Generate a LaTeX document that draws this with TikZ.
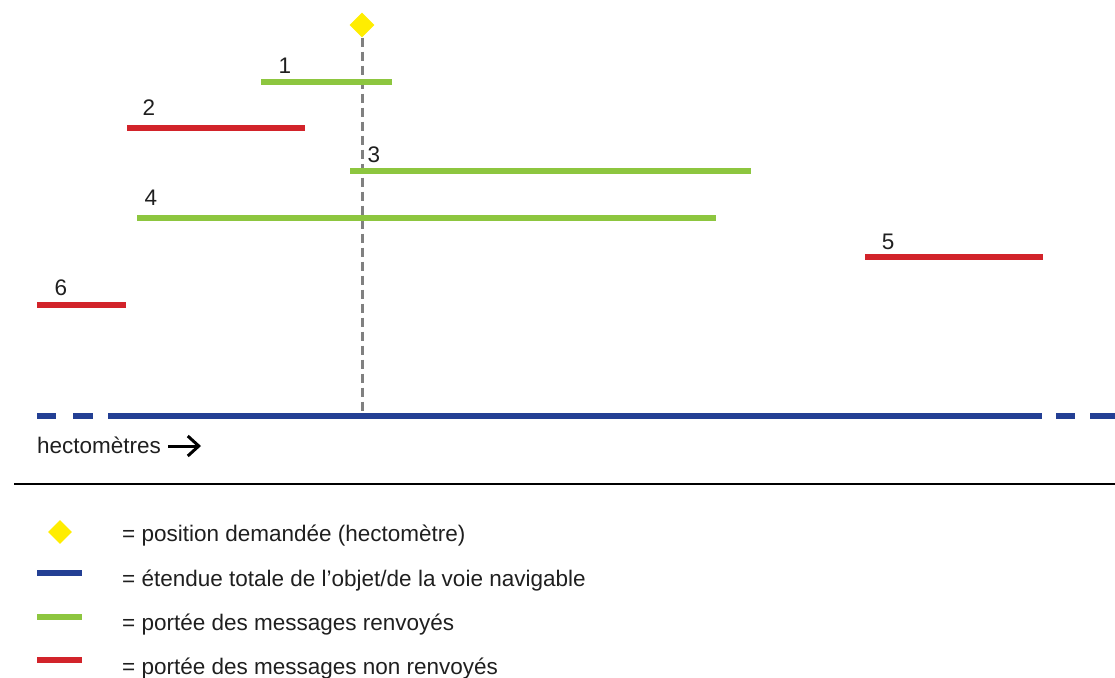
\documentclass[tikz,border=0pt]{standalone}
\usepackage{fontspec}
\setmainfont{Liberation Sans}
\usetikzlibrary{shapes.geometric,arrows.meta}
\definecolor{vert}{RGB}{141,198,63}
\definecolor{rouge}{RGB}{210,35,42}
\definecolor{bleu}{RGB}{35,63,148}
\definecolor{jaune}{RGB}{255,237,0}
\definecolor{gris}{RGB}{128,128,128}
\begin{document}
\begin{tikzpicture}[x=1pt,y=-1pt,
	texte/.style={font=\fontsize{22.5}{27}\selectfont, inner sep=0pt, text=black!88},
	legende/.style={texte, anchor=base west},
	losange/.style={diamond, fill=jaune, minimum size=25pt, inner sep=0pt},
	portee/.style={line width=5.5pt},
	voie/.style={bleu, line width=6.5pt}]
	\useasboundingbox (0,0) rectangle (1115,677);
	% position demandee
	\node[losange] (pos) at (362,25) {};
	\coordinate (axe) at (362,416);
	\draw[gris, line width=3pt, dash pattern=on 9pt off 5pt] (pos.south) -- (axe);
	% portees des messages
	\foreach \n/\xa/\xb/\y/\lx/\ly/\c in {1/261/392/82/285/66/vert, 2/127/305/128/149/108/rouge,
		3/350/751/171/374/155/vert, 4/137/716/218/151/198/vert,
		5/865/1043/257/888/242/rouge, 6/37/126/305/61/288/rouge}{
		\coordinate (d\n) at (\xa,\y);
		\coordinate (f\n) at (\xb,\y);
		\draw[portee,\c] (d\n) -- (f\n);
		\node[texte] (n\n) at (\lx,\ly) {\n};
	}
	% voie navigable
	\draw[voie] (37,416) -- (56,416) (73,416) -- (93,416) (108,416) -- (1042,416)
		(1056,416) -- (1075,416) (1090,416) -- (1115,416);
	\node[legende] (hm) at (37,453) {hectomètres};
	\coordinate (fl) at (201,446);
	\draw[line width=3pt, -{Straight Barb[length=11pt,width=20pt]}] ([xshift=7pt]hm.east |- fl) -- (fl);
	\draw[line width=2.5pt] (14,484) -- (1115,484);
	% legende
	\node[losange, minimum size=24pt] (lpos) at (60,532) {};
	\node[legende] (t1) at (122,541) {= position demandée (hectomètre)};
	\draw[voie] (37,573) -- (82,573);
	\node[legende] (t2) at (122,586) {= étendue totale de l’objet/de la voie navigable};
	\draw[portee,vert] (37,617) -- (82,617);
	\node[legende] (t3) at (122,630) {= portée des messages renvoyés};
	\draw[portee,rouge] (37,660) -- (82,660);
	\node[legende] (t4) at (122,674) {= portée des messages non renvoyés};
\end{tikzpicture}
\end{document}
